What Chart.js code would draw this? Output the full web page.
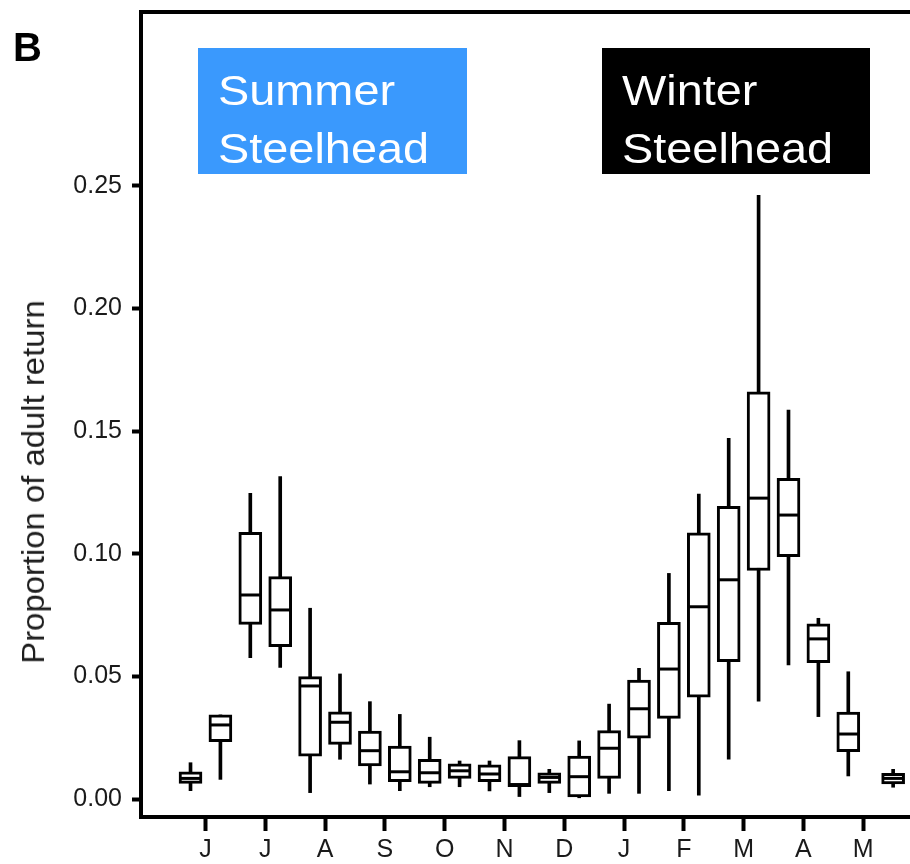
<!DOCTYPE html>
<html lang="en">
<head>
    <meta charset="UTF-8">
    <title>Steelhead adult return timing</title>
    <script src="https://cdn.jsdelivr.net/npm/chart.js@4"></script>
    <style>
        body {
            margin: 0;
            background: #fff;
            font-family: "Liberation Sans", Arial, sans-serif;
        }

        .wrap {
            position: relative;
            width: 910px;
            height: 864px;
            overflow: hidden;
        }

        canvas {
            position: absolute;
            left: 0;
            top: 0;
        }

        .panel-tag {
            position: absolute;
            left: 13px;
            top: 27px;
            font-size: 40px;
            font-weight: bold;
            line-height: 40px;
            color: #000;
        }

        .run-label {
            position: absolute;
            top: 48px;
            height: 126px;
            box-sizing: border-box;
            padding: 13px 0 0 20px;
            color: #fff;
            font-size: 43px;
            line-height: 58px;
        }

        .run-label span {
            display: block;
            white-space: nowrap;
            transform: scaleX(1.09);
            transform-origin: left center;
        }

        .summer { left: 198px; width: 269px; background: #3a99fd; }
        .winter { left: 602px; width: 268px; background: #000; }

        .y-title {
            position: absolute;
            left: 34px;
            top: 482px;
            white-space: nowrap;
            font-size: 31px;
            color: #1e1e1e;
            transform: translate(-50%, -50%) rotate(-90deg) scaleX(1.06);
        }
    </style>
</head>
<body>
    <div class="wrap">
        <canvas id="returns" width="910" height="864"></canvas>
        <div class="panel-tag">B</div>
        <div class="run-label summer"><span>Summer</span><span>Steelhead</span></div>
        <div class="run-label winter"><span>Winter</span><span>Steelhead</span></div>
        <div class="y-title">Proportion of adult return</div>
    </div>

    <script>
        // half-month periods, late May through the following May
        const periodPos = [0, 1, 2, 3, 4, 5, 6, 7, 8, 9, 10, 11, 12, 13, 14, 15, 16, 17, 18, 19, 20, 21, 22, 23.5];
        const whiskLow = [0.0034, 0.0080, 0.0576, 0.0537, 0.0026, 0.0162, 0.0061, 0.0034, 0.0050, 0.0050, 0.0033, 0.0010,
                          0.0026, 0.0005, 0.0023, 0.0023, 0.0034, 0.0016, 0.0162, 0.0399, 0.0547, 0.0336, 0.0094, 0.0048];
        const quart1 = [0.0064, 0.0234, 0.0712, 0.0621, 0.0175, 0.0223, 0.0135, 0.0071, 0.0064, 0.0084, 0.0071, 0.0050,
                        0.0064, 0.0009, 0.0084, 0.0248, 0.0329, 0.0415, 0.0560, 0.0932, 0.0988, 0.0556, 0.0193, 0.0061];
        const medians = [0.0084, 0.0302, 0.0832, 0.0771, 0.0461, 0.0313, 0.0197, 0.0111, 0.0107, 0.0115, 0.0102, 0.0059,
                         0.0088, 0.0091, 0.0207, 0.0368, 0.0530, 0.0784, 0.0894, 0.1227, 0.1158, 0.0653, 0.0265, 0.0084];
        const quart3 = [0.0111, 0.0343, 0.1088, 0.0907, 0.0499, 0.0356, 0.0277, 0.0216, 0.0162, 0.0143, 0.0139, 0.0173,
                        0.0107, 0.0175, 0.0279, 0.0485, 0.0721, 0.1086, 0.1194, 0.1661, 0.1308, 0.0714, 0.0354, 0.0105];
        const whiskHigh = [0.0148, 0.0343, 0.1247, 0.1315, 0.0778, 0.0510, 0.0397, 0.0345, 0.0252, 0.0155, 0.0155, 0.0238,
                           0.0121, 0.0237, 0.0387, 0.0533, 0.0920, 0.1244, 0.1471, 0.2462, 0.1586, 0.0737, 0.0519, 0.0121];

        const monthTickPos = [0.5, 2.5, 4.5, 6.5, 8.5, 10.5, 12.5, 14.5, 16.5, 18.5, 20.5, 22.5];
        const monthLabels = ['J', 'J', 'A', 'S', 'O', 'N', 'D', 'J', 'F', 'M', 'A', 'M'];
        const yTickValues = [0, 0.05, 0.10, 0.15, 0.20, 0.25];

        const FONT = '"Liberation Sans", Arial, sans-serif';

        const points = (arr) => periodPos.map((x, i) => ({ x: x, y: arr[i] }));
        const spans = (lo, hi) => periodPos.map((x, i) => ({ x: x, y: [lo[i], hi[i]] }));

        // the axes should not ask the layout for room around their end labels
        const noPad = (scale) => {
            scale.paddingLeft = 0;
            scale.paddingRight = 0;
            scale.paddingTop = 0;
            scale.paddingBottom = 0;
        };

        // top edge of the panel frame
        const topFrame = {
            id: 'topFrame',
            afterDraw(chart) {
                const { ctx, chartArea } = chart;
                ctx.save();
                ctx.strokeStyle = '#000';
                ctx.lineWidth = 4;
                ctx.beginPath();
                ctx.moveTo(chartArea.left - 2, chartArea.top);
                ctx.lineTo(chartArea.right, chartArea.top);
                ctx.stroke();
                ctx.restore();
            }
        };

        new Chart(document.getElementById('returns'), {
            type: 'bar',
            data: {
                datasets: [
                    {
                        type: 'scatter',
                        data: points(medians),
                        pointStyle: 'line',
                        pointRadius: 10,
                        pointBorderWidth: 3,
                        pointBorderColor: '#000',
                        showLine: false,
                        order: 0
                    },
                    {
                        data: spans(quart1, quart3),
                        grouped: false,
                        barThickness: 23,
                        backgroundColor: '#fff',
                        borderColor: '#000',
                        borderWidth: 3,
                        borderSkipped: false,
                        order: 1
                    },
                    {
                        data: spans(whiskLow, whiskHigh),
                        grouped: false,
                        barThickness: 3,
                        backgroundColor: '#000',
                        borderWidth: 0,
                        order: 2
                    }
                ]
            },
            options: {
                responsive: false,
                animation: false,
                events: [],
                layout: {
                    autoPadding: false,
                    padding: { top: 12, left: 0, right: 0, bottom: 0 }
                },
                plugins: {
                    legend: { display: false },
                    tooltip: { enabled: false }
                },
                scales: {
                    x: {
                        type: 'linear',
                        min: -1.656,
                        max: 24.064,
                        bounds: 'data',
                        offset: false,
                        grid: {
                            offset: false,
                            drawOnChartArea: false,
                            drawTicks: true,
                            tickLength: 14,
                            tickWidth: 4,
                            tickColor: '#000'
                        },
                        border: { display: true, width: 4, color: '#000' },
                        ticks: {
                            autoSkip: false,
                            maxRotation: 0,
                            padding: 4,
                            color: '#1a1a1a',
                            font: { family: FONT, size: 25 },
                            callback: (v, i) => monthLabels[i]
                        },
                        afterBuildTicks: (scale) => {
                            scale.ticks = monthTickPos.map(v => ({ value: v }));
                        },
                        afterFit: (scale) => {
                            scale.height = 47;
                            noPad(scale);
                        }
                    },
                    y: {
                        type: 'linear',
                        min: -0.00734,
                        max: 0.32096,
                        bounds: 'data',
                        grid: {
                            drawOnChartArea: false,
                            drawTicks: true,
                            tickLength: 9,
                            tickWidth: 4,
                            tickColor: '#000'
                        },
                        border: { display: true, width: 4, color: '#000' },
                        ticks: {
                            padding: 10,
                            color: '#1a1a1a',
                            font: { family: FONT, size: 25 },
                            callback: (v) => v.toFixed(2)
                        },
                        afterBuildTicks: (scale) => {
                            scale.ticks = yTickValues.map(v => ({ value: v }));
                        },
                        afterFit: (scale) => {
                            scale.width = 141;
                            noPad(scale);
                        }
                    }
                }
            },
            plugins: [topFrame]
        });
    </script>
</body>
</html>
